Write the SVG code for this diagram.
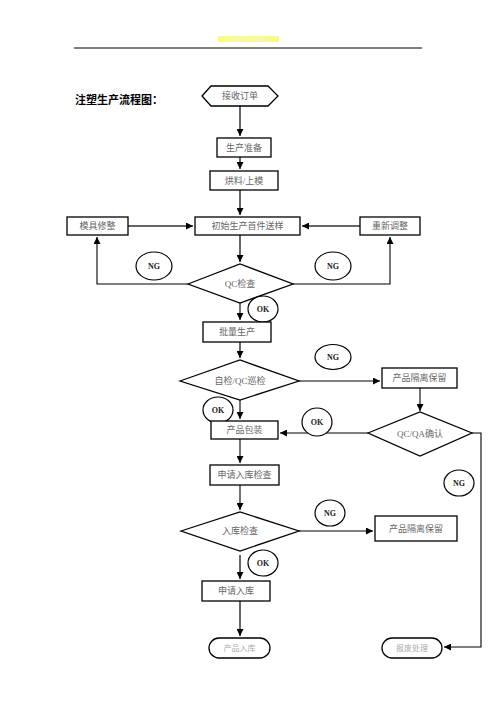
<svg xmlns="http://www.w3.org/2000/svg" width="496" height="702" viewBox="0 0 496 702">
<style>
.box{fill:#fff;stroke:#000;stroke-width:1.3}
.t{font-family:"Liberation Serif","Noto Sans CJK SC",serif;font-size:9px;fill:#666;text-anchor:middle;dominant-baseline:central}
.e{fill:#fff;stroke:#000;stroke-width:1.2}
.et{font-family:"Liberation Serif","Noto Sans CJK SC",serif;font-size:8px;font-weight:bold;fill:#222;text-anchor:middle;dominant-baseline:central}
.c{fill:none;stroke:#000;stroke-width:1.1}
.g{fill:none;stroke:#666;stroke-width:2}
</style>
<defs>
<marker id="a" viewBox="0 0 10 10" refX="10" refY="5" markerWidth="7" markerHeight="7" markerUnits="userSpaceOnUse" orient="auto"><path d="M0,0 L10,5 L0,10 z" fill="#000"/></marker>
</defs>
<rect width="496" height="702" fill="#fff"/>
<g id="header">
<rect x="218" y="36" width="61" height="6" fill="#fafa8c"/>
<text x="248" y="38.5" font-family="Liberation Sans,Noto Sans CJK SC,sans-serif" font-size="6" fill="#f4f4c8" text-anchor="middle" dominant-baseline="central">精品学习资料</text>
<line x1="74" y1="48" x2="422" y2="48" stroke="#000" stroke-width="1"/>
</g>
<g id="title"><text x="75" y="100" font-family="Liberation Serif,Noto Sans CJK SC,serif" font-size="11" font-weight="bold" fill="#000" dominant-baseline="central">注塑生产流程图：</text></g>

<g id="connectors">
<path class="g" d="M240,106 V136" marker-end="url(#a)"/>
<path class="g" d="M240,157 V169" marker-end="url(#a)"/>
<path class="g" d="M240,190 V215" marker-end="url(#a)"/>
<path class="g" d="M128,226 H193" marker-end="url(#a)"/>
<path class="g" d="M360,226 H302" marker-end="url(#a)"/>
<path class="g" d="M240,235 V262" marker-end="url(#a)"/>
<path class="c" d="M188,284 H97 V237" marker-end="url(#a)"/>
<path class="c" d="M293,284 H390 V237" marker-end="url(#a)"/>
<path class="c" d="M240,303 V320" marker-end="url(#a)"/>
<path class="g" d="M240,342 V358" marker-end="url(#a)"/>
<path class="c" d="M299,381 H380" marker-end="url(#a)"/>
<path class="c" d="M420,388 V411" marker-end="url(#a)"/>
<path class="c" d="M240,400 V419" marker-end="url(#a)"/>
<path class="c" d="M368,433 H280" marker-end="url(#a)"/>
<path class="c" d="M472,433 H481 V647 H444" marker-end="url(#a)"/>
<path class="c" d="M240,439 V463" marker-end="url(#a)"/>
<path class="c" d="M240,485 V510" marker-end="url(#a)"/>
<path class="c" d="M299,531 H373" marker-end="url(#a)"/>
<path class="g" d="M240,555 V579" marker-end="url(#a)"/>
<path class="g" d="M240,601 V636" marker-end="url(#a)"/>
</g>

<g id="n-order"><path class="box" d="M202,96 L211,86 H268 L278,96 L268,106 H211 Z"/><text class="t" x="240" y="96">接收订单</text></g>
<g id="n-prep"><rect class="box" x="217" y="138" width="54" height="19"/><text class="t" x="244" y="147.5">生产准备</text></g>
<g id="n-dry"><rect class="box" x="210" y="171" width="68" height="19"/><text class="t" x="244" y="180.5">烘料/上模</text></g>
<g id="n-mold"><rect class="box" x="67" y="217" width="61" height="18"/><text class="t" x="97.5" y="226">模具修整</text></g>
<g id="n-first"><rect class="box" x="195" y="217" width="105" height="18"/><text class="t" x="247.5" y="226">初始生产首件送样</text></g>
<g id="n-adjust"><rect class="box" x="360" y="217" width="60" height="18"/><text class="t" x="390" y="226">重新调整</text></g>
<g id="n-qc"><path class="box" d="M188,284 L240,264 L293,284 L240,303 Z"/><text class="t" x="240" y="284">QC检查</text></g>
<g id="l-ng1"><ellipse class="e" cx="154" cy="266" rx="18" ry="14"/><text class="et" x="154" y="266">NG</text></g>
<g id="l-ng2"><ellipse class="e" cx="333" cy="266" rx="18" ry="14"/><text class="et" x="333" y="266">NG</text></g>
<g id="l-ok1"><ellipse class="e" cx="263" cy="309" rx="15" ry="13"/><text class="et" x="263" y="309">OK</text></g>
<g id="n-mass"><rect class="box" x="203" y="322" width="68" height="20"/><text class="t" x="237" y="332">批量生产</text></g>
<g id="n-self"><path class="box" d="M180,381 L240,360 L299,381 L240,400 Z"/><text class="t" x="240" y="381">自检/QC巡检</text></g>
<g id="l-ng3"><ellipse class="e" cx="333" cy="357" rx="18" ry="12.5"/><text class="et" x="333" y="357">NG</text></g>
<g id="n-iso1"><rect class="box" x="382" y="368" width="75" height="20"/><text class="t" x="419.5" y="378">产品隔离保留</text></g>
<g id="l-ok2"><ellipse class="e" cx="218" cy="410" rx="15" ry="13"/><text class="et" x="218" y="410">OK</text></g>
<g id="n-pack"><rect class="box" x="211" y="421" width="67" height="18"/><text class="t" x="244.5" y="430">产品包装</text></g>
<g id="n-qa"><path class="box" d="M368,433 L420,412 L472,433 L420,456 Z"/><text class="t" x="420" y="434">QC/QA确认</text></g>
<g id="l-ok3"><ellipse class="e" cx="317" cy="422" rx="15" ry="14"/><text class="et" x="317" y="422">OK</text></g>
<g id="l-ng4"><ellipse class="e" cx="459" cy="483" rx="15" ry="13"/><text class="et" x="459" y="483">NG</text></g>
<g id="n-applychk"><rect class="box" x="210" y="465" width="69" height="20"/><text class="t" x="244.5" y="475">申请入库检查</text></g>
<g id="n-stock"><path class="box" d="M181,531 L240,512 L299,531 L240,551 Z"/><text class="t" x="240" y="531">入库检查</text></g>
<g id="l-ng5"><ellipse class="e" cx="330" cy="513" rx="15" ry="13"/><text class="et" x="330" y="513">NG</text></g>
<g id="n-iso2"><rect class="box" x="375" y="516" width="82" height="25"/><text class="t" x="416" y="528.5">产品隔离保留</text></g>
<g id="l-ok4"><ellipse class="e" cx="263" cy="563" rx="15" ry="13"/><text class="et" x="263" y="563">OK</text></g>
<g id="n-apply"><rect class="box" x="202" y="581" width="68" height="20"/><text class="t" x="236" y="591">申请入库</text></g>
<g id="n-in"><rect class="box" x="209" y="638" width="61" height="20" rx="10"/><text class="t" x="239.5" y="648" style="fill:#aaa;font-size:8px">产品入库</text></g>
<g id="n-scrap"><rect class="box" x="382" y="638" width="60" height="20" rx="10"/><text class="t" x="412" y="648" style="fill:#aaa;font-size:8px">报废处理</text></g>
</svg>
